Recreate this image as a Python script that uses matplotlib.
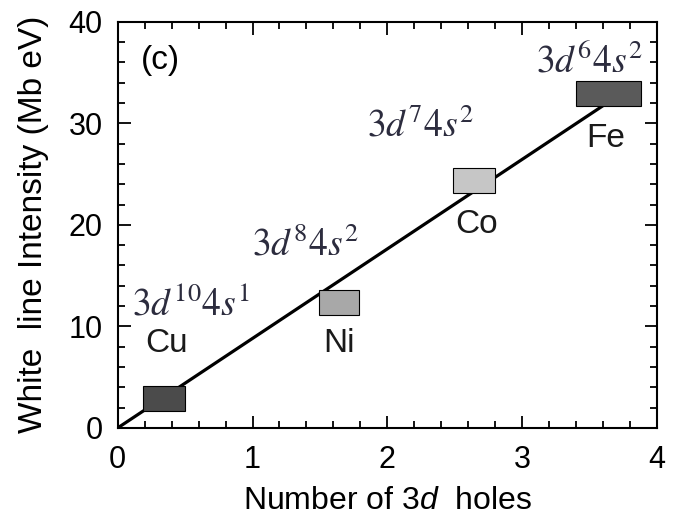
import matplotlib
matplotlib.use('Agg')
import matplotlib.pyplot as plt
from matplotlib.patches import Rectangle
from matplotlib.ticker import MultipleLocator

# elements, box extents (x range = 3d holes, y range = intensity)
elements = ['Cu', 'Ni', 'Co', 'Fe']
x_lo = [0.19, 1.49, 2.49, 3.40]
x_hi = [0.50, 1.79, 2.80, 3.88]
y_lo = [1.7, 11.1, 23.1, 31.7]
y_hi = [4.1, 13.6, 25.6, 34.2]
box_colors = ['#4b4b4b', '#a8a8a8', '#c6c6c6', '#5a5a5a']

# element label positions
lab_x = [0.36, 1.64, 2.66, 3.62]
lab_y = [8.3, 8.3, 20.0, 28.5]

# configurations
configs = [r'$3d^{10}4s^{1}$', r'$3d^{8}4s^{2}$', r'$3d^{7}4s^{2}$', r'$3d^{6}4s^{2}$']
cfg_x = [0.54, 1.39, 2.25, 3.50]
cfg_y = [11.1, 17.0, 28.7, 35.0]

# fitted line
line_x = [0.0, 3.70]
line_y = [0.0, 32.6]

plt.rcParams['font.family'] = ['Liberation Sans', 'DejaVu Sans']
plt.rcParams['mathtext.fontset'] = 'custom'
plt.rcParams['mathtext.rm'] = 'Liberation Sans'
plt.rcParams['mathtext.it'] = 'Liberation Sans:italic'

fig = plt.figure(figsize=(6.77, 5.18), dpi=100)
ax = fig.add_axes([0.174, 0.174, 0.796, 0.784])

ax.plot(line_x, line_y, color='black', linewidth=2.3, zorder=2)

for i in range(len(elements)):
    ax.add_patch(Rectangle((x_lo[i], y_lo[i]), x_hi[i] - x_lo[i], y_hi[i] - y_lo[i],
                           facecolor=box_colors[i], edgecolor='black', linewidth=0.8, zorder=3))
    ax.text(lab_x[i], lab_y[i], elements[i], fontsize=24, ha='center', va='center', color='#1a1a1a')
    ax.text(cfg_x[i], cfg_y[i], configs[i], fontsize=27, ha='center', va='baseline',
            color='#2c2c3e', math_fontfamily='stix')

ax.text(0.17, 36.2, '(c)', fontsize=24, ha='left', va='center')

ax.set_xlim(0, 4)
ax.set_ylim(0, 40)
ax.xaxis.set_major_locator(MultipleLocator(1))
ax.xaxis.set_minor_locator(MultipleLocator(0.2))
ax.yaxis.set_major_locator(MultipleLocator(10))
ax.yaxis.set_minor_locator(MultipleLocator(2))
ax.tick_params(which='both', direction='in', top=True, right=True, width=1.3)
ax.tick_params(which='major', length=9, labelsize=22)
ax.tick_params(axis='x', which='major', pad=12)
ax.tick_params(axis='y', which='major', pad=11)
ax.tick_params(which='minor', length=5)
for s in ax.spines.values():
    s.set_linewidth(1.5)

ax.set_xlabel(r'Number of 3$\it{d}$  holes', fontsize=23)
ax.set_ylabel('White  line Intensity (Mb eV)', fontsize=24)
ax.xaxis.set_label_coords(0.5, -0.143)
ax.yaxis.set_label_coords(-0.127, 0.5)

fig.savefig('out.png', dpi=100)
